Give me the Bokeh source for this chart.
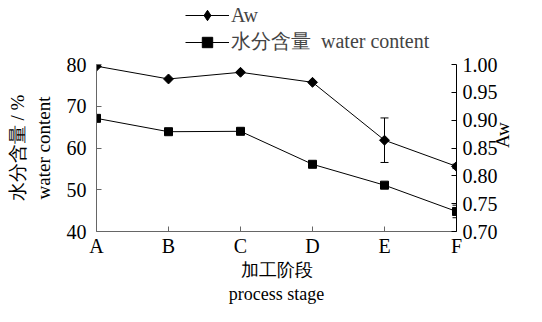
import math
from bokeh.plotting import figure
from bokeh.layouts import column
from bokeh.models import (Range1d, LinearAxis, FixedTicker, Whisker, ColumnDataSource,
                          Legend, LegendItem, TeeHead, PrintfTickFormatter)
from bokeh.embed import file_html
from bokeh.resources import INLINE

# ---- data ----
stages = ["A", "B", "C", "D", "E", "F"]
aw = [0.997, 0.974, 0.986, 0.968, 0.864, 0.817]
aw_err = [0.0, 0.0, 0.0, 0.0, 0.040, 0.004]
water = [67.1, 63.9, 64.0, 56.1, 51.1, 44.8]
water_err = [0.0, 0.0, 0.0, 0.0, 0.0, 1.5]
left_ticks = [40, 50, 60, 70, 80]
right_ticks = [0.70, 0.75, 0.80, 0.85, 0.90, 0.95, 1.00]
series_names = ["Aw", "水分含量  water content"]

FONT = "Liberation Serif"
xs = list(range(len(stages)))
W = 526
H_LEG = 55
H_MAIN = 306 - H_LEG

# ---------------- main chart ----------------
p = figure(width=W, height=H_MAIN, output_backend="svg", toolbar_location=None,
           x_range=Range1d(xs[0], xs[-1]),
           y_range=Range1d(left_ticks[0], left_ticks[-1]),
           min_border_left=96, min_border_right=66, min_border_top=9,
           min_border_bottom=70)
p.extra_y_ranges = {"aw": Range1d(right_ticks[0], right_ticks[-1])}
p.outline_line_color = None
p.xgrid.visible = False
p.ygrid.visible = False

p.line(xs, water, line_color="black", line_width=1)
p.scatter(xs, water, marker="square", size=8, fill_color="black", line_color="black")
p.line(xs, aw, line_color="black", line_width=1, y_range_name="aw")
p.scatter(xs, aw, marker="square", angle=math.pi / 4, size=7,
          fill_color="black", line_color="black", y_range_name="aw")

ai = [i for i in xs if aw_err[i] > 0]
asrc = ColumnDataSource(dict(x=ai,
                             upper=[aw[i] + aw_err[i] for i in ai],
                             lower=[aw[i] - aw_err[i] for i in ai]))
p.add_layout(Whisker(source=asrc, base="x", upper="upper", lower="lower",
                     y_range_name="aw", line_color="black", line_width=1,
                     upper_head=TeeHead(size=8, line_color="black"),
                     lower_head=TeeHead(size=8, line_color="black")))
wi = [i for i in xs if water_err[i] > 0]
wsrc = ColumnDataSource(dict(x=wi,
                             upper=[water[i] + water_err[i] for i in wi],
                             lower=[water[i] - water_err[i] for i in wi]))
p.add_layout(Whisker(source=wsrc, base="x", upper="upper", lower="lower",
                     line_color="black", line_width=1,
                     upper_head=TeeHead(size=8, line_color="black"),
                     lower_head=TeeHead(size=8, line_color="black")))


def style(ax, color, tick_size="20px", title_size="19px"):
    ax.axis_line_color = color
    ax.major_tick_line_color = color
    ax.major_tick_in = 5
    ax.major_tick_out = 0
    ax.minor_tick_line_color = None
    ax.major_label_text_font = FONT
    ax.major_label_text_font_size = tick_size
    ax.major_label_text_color = "black"
    ax.axis_label_text_font = FONT
    ax.axis_label_text_font_size = title_size
    ax.axis_label_text_font_style = "normal"
    ax.axis_label_text_color = "black"


xa = p.xaxis[0]
xa.ticker = FixedTicker(ticks=xs)
xa.major_label_overrides = {i: s for i, s in enumerate(stages)}
xa.axis_label = "加工阶段\nprocess stage"
style(xa, "#666666", title_size="18px")
xa.major_label_standoff = 3
xa.axis_label_standoff = 0

ya = p.yaxis[0]
ya.ticker = FixedTicker(ticks=left_ticks)
ya.axis_label = "水分含量 / %\nwater content"
style(ya, "#666666")
ya.major_label_standoff = 10
ya.axis_label_standoff = 10

ra = LinearAxis(y_range_name="aw", ticker=FixedTicker(ticks=right_ticks),
                formatter=PrintfTickFormatter(format="%.2f"), axis_label="Aw")
style(ra, "black")
ra.major_label_standoff = 6
ra.axis_label_standoff = 2
ra.axis_label_orientation = math.pi / 2
p.add_layout(ra, "right")

# ---------------- legend strip above the chart ----------------
# (same series, drawn outside this strip's visible y range; only the legend shows)
lg = figure(width=W, height=H_LEG, output_backend="svg", toolbar_location=None,
            x_range=Range1d(xs[0], xs[-1]), y_range=Range1d(-2, -1), min_border=0)
lg.axis.visible = False
lg.xgrid.visible = False
lg.ygrid.visible = False
lg.outline_line_color = None
la_line = lg.line(xs, aw, line_color="black", line_width=1)
la_mark = lg.scatter(xs, aw, marker="diamond", size=13,
                     fill_color="black", line_color="black")
lw_line = lg.line(xs, water, line_color="black", line_width=1)
lw_mark = lg.scatter(xs, water, marker="square", size=8,
                     fill_color="black", line_color="black")
legend = Legend(items=[LegendItem(label=series_names[0], renderers=[la_line, la_mark]),
                       LegendItem(label=series_names[1], renderers=[lw_line, lw_mark])],
                location=(89, 0), glyph_width=44, glyph_height=26, label_height=26,
                spacing=0, padding=0, margin=0, label_standoff=2,
                border_line_color=None, background_fill_alpha=0,
                label_text_font=FONT, label_text_font_size="20px")
lg.add_layout(legend)

layout = column(lg, p, spacing=0)
open("out.html", "w").write(file_html(layout, INLINE))
